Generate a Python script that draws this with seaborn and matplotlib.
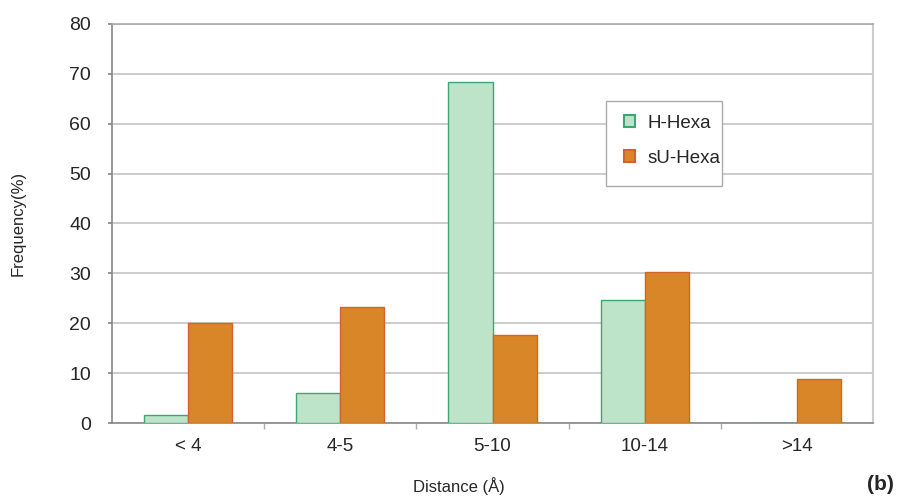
import matplotlib
matplotlib.use("Agg")
import matplotlib.pyplot as plt
import seaborn as sns
import pandas as pd
from matplotlib.patches import Patch, Rectangle

categories = ["< 4", "4-5", "5-10", "10-14", ">14"]
h_hexa = [1.7, 6.0, 68.4, 24.7, 0.0]
su_hexa = [20.0, 23.2, 17.6, 30.2, 8.8]
series_names = ["H-Hexa", "sU-Hexa"]
y_ticks = [0, 10, 20, 30, 40, 50, 60, 70, 80]

fill_colors = ["#bde3c9", "#d98628"]
edge_colors = ["#3aa872", "#d8602c"]

df = pd.DataFrame({
    "Distance": categories * 2,
    "Frequency": h_hexa + su_hexa,
    "Series": [series_names[0]] * len(categories) + [series_names[1]] * len(categories),
})

sns.set_theme(style="white")
plt.rcParams["font.family"] = ["Liberation Sans", "DejaVu Sans"]

W, H = 900, 499
fig = plt.figure(figsize=(9, 4.99), dpi=100)
ax = fig.add_axes([112 / W, 1 - 423 / H, (873 - 112) / W, (423 - 24) / H])

sns.barplot(data=df, x="Distance", y="Frequency", hue="Series",
            order=categories, hue_order=series_names,
            palette=fill_colors, width=0.58, gap=0, ax=ax, legend=False,
            linewidth=1.0, saturation=1)

for cont, ec in zip(ax.containers, edge_colors):
    for p in cont:
        p.set_edgecolor(ec)
        p.set_linewidth(1.0)
        p.set_zorder(3)

ax.set_ylim(0, 80)
ax.set_xlim(-0.5, len(categories) - 0.5)
ax.set_yticks(y_ticks)
ax.yaxis.grid(True, color="#c4c4c4", linewidth=1.2, zorder=0)
ax.set_axisbelow(True)
ax.tick_params(axis="y", labelsize=14, length=3, color="#888888", pad=12, left=True)
ax.tick_params(axis="x", labelsize=13.5, length=0, pad=11)
ax.set_xticks(range(len(categories)))
ax.set_xticks([i + 0.5 for i in range(len(categories) - 1)], minor=True)
ax.tick_params(axis="x", which="minor", length=4, color="#aaaaaa", bottom=True)

for s in ["left", "bottom"]:
    ax.spines[s].set_color("#888888")
    ax.spines[s].set_linewidth(1.2)
ax.spines["right"].set_color("#cccccc")
ax.spines["right"].set_linewidth(1.5)
ax.spines["top"].set_color("#aaaaaa")
ax.spines["top"].set_linewidth(1.2)

ax.set_ylabel("Frequency(%)", fontsize=12)
ax.yaxis.set_label_coords(-0.113, 0.5)
ax.set_xlabel("Distance (Å)", fontsize=12)
ax.xaxis.set_label_coords(0.456, -0.135)

# legend frame
frame = Rectangle((606 / W, 1 - 186 / H), (722 - 606) / W, (186 - 101) / H,
                  transform=fig.transFigure, facecolor="white", edgecolor="#aaaaaa",
                  linewidth=1.0, zorder=4, clip_on=False)
ax.add_patch(frame)

handles = [Patch(facecolor=f, edgecolor=e, linewidth=1.5) for f, e in zip(fill_colors, edge_colors)]
leg = ax.legend(handles, series_names, loc="center left",
                bbox_to_anchor=(624 / W, 1 - 140.8 / H), bbox_transform=fig.transFigure,
                fontsize=13.5, frameon=False,
                handlelength=0.6, handleheight=0.6, handletextpad=0.64, labelspacing=0.96,
                borderpad=0, borderaxespad=0)
leg.set_zorder(5)

fig.text(880 / W, 1 - 485 / H, "(b)", fontsize=15, fontweight="bold", ha="center", va="center")

fig.savefig("out.png", dpi=100)
